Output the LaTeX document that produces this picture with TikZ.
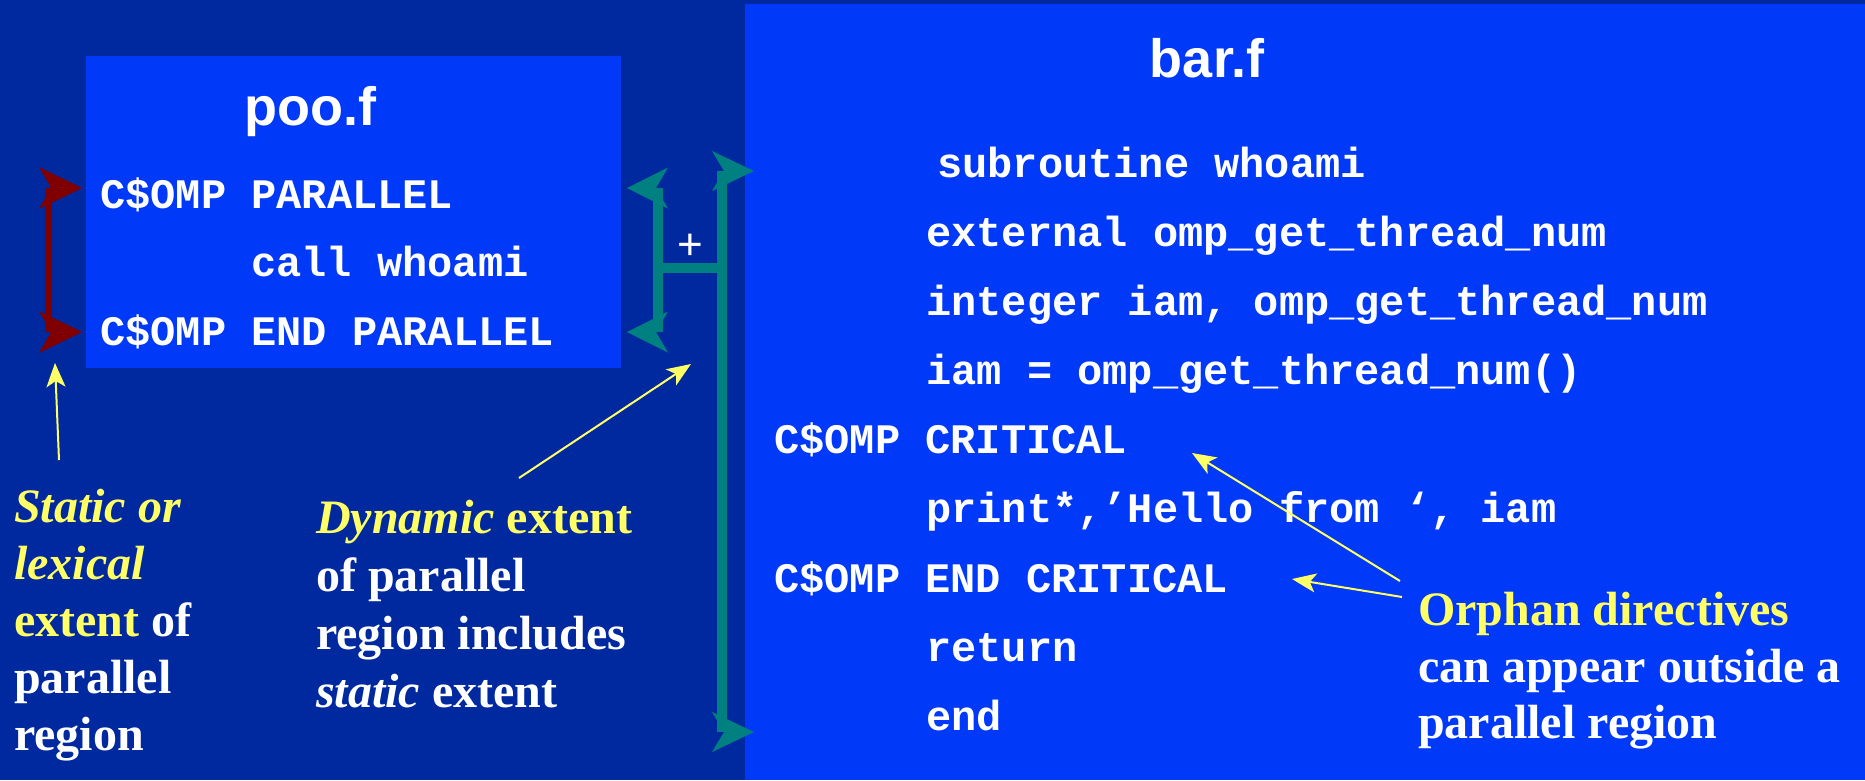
\documentclass[tikz,border=0pt]{standalone}
\usepackage{fontspec}
\setmainfont{Liberation Serif}
\newfontfamily\titlefont{Liberation Sans}
\newfontfamily\codefont{Liberation Mono}
\usetikzlibrary{arrows.meta}
\definecolor{bgdark}{RGB}{0,41,160}
\definecolor{panelblue}{RGB}{0,57,248}
\definecolor{hiyellow}{RGB}{255,255,102}
\definecolor{bracketred}{RGB}{128,0,0}
\definecolor{bracketteal}{RGB}{0,128,128}
\begin{document}
\begin{tikzpicture}[x=1pt,y=-1pt,
  panel/.style={fill=panelblue, draw=none, inner sep=0pt, outer sep=0pt, anchor=north west},
  filetitle/.style={font=\titlefont\bfseries\fontsize{54}{60}\selectfont, text=white, anchor=base, inner sep=0pt},
  codeline/.style={font=\codefont\bfseries\fontsize{42}{48}\selectfont, text=white, anchor=base west, inner sep=0pt},
  noteline/.style={font=\bfseries\fontsize{48}{56}\selectfont, text=white, anchor=base west, inner sep=0pt},
  pointer/.style={draw=hiyellow, line width=2pt, -{Stealth[length=24pt,width=19pt,inset=6pt]}},
  redbar/.style={draw=bracketred, line width=7pt},
  tealbar/.style={draw=bracketteal, line width=10pt}
]
\useasboundingbox (0,0) rectangle (1865,780);
\fill[bgdark] (0,0) rectangle (1865,780);

% panels
\node[panel, minimum width=535pt, minimum height=312pt] (poo) at (86,56) {};
\node[panel, minimum width=1120pt, minimum height=776pt] (bar) at (745,4) {};

% titles
\node[filetitle] (pootitle) at (310,125) {poo.f};
\node[filetitle] (bartitle) at (1207,77) {bar.f};

% poo.f code
\node[codeline] (p1) at (100,208) {C\$OMP PARALLEL};
\node[codeline] (p2) at (251,276) {call whoami};
\node[codeline] (p3) at (100,345) {C\$OMP END PARALLEL};

% bar.f code
\node[codeline] (b1) at (937,177) {subroutine whoami};
\node[codeline] (b2) at (926,246) {external omp\_get\_thread\_num};
\node[codeline] (b3) at (926,315) {integer iam, omp\_get\_thread\_num};
\node[codeline] (b4) at (926,384) {iam = omp\_get\_thread\_num()};
\node[codeline] (b5) at (774,453) {C\$OMP CRITICAL};
\node[codeline] (b6) at (926,522) {print*,’Hello from ‘, iam};
\node[codeline] (b7) at (774,592) {C\$OMP END CRITICAL};
\node[codeline] (b8) at (926,661) {return};
\node[codeline] (b9) at (926,730) {end};

% static extent bracket (dark red)
\draw[redbar] (48.5,188) -- (48.5,332);
\fill[bracketred] (82,188) -- ++(-43,-21) -- ++(12,21) -- ++(-12,21) -- cycle;
\fill[bracketred] (82,332) -- ++(-43,-21) -- ++(12,21) -- ++(-12,21) -- cycle;

% dynamic extent brackets (teal)
\draw[tealbar] (658,188) -- (658,332);
\draw[tealbar, line width=9.5pt] (658,268) -- (722,268);
\draw[tealbar] (722,171) -- (722,732);
\fill[bracketteal] (627,188) -- ++(41,-20.5) -- ++(-12,20.5) -- ++(12,20.5) -- cycle;
\fill[bracketteal] (627,332) -- ++(41,-20.5) -- ++(-12,20.5) -- ++(12,20.5) -- cycle;
\fill[bracketteal] (754,171) -- ++(-42,-20) -- ++(12,20) -- ++(-12,20) -- cycle;
\fill[bracketteal] (754,732) -- ++(-42,-20) -- ++(12,20) -- ++(-12,20) -- cycle;
\node[font=\titlefont\fontsize{44}{50}\selectfont, text=white, inner sep=0pt] (plus) at (690,247) {+};

% static note
\node[noteline] (s1) at (14,522) {\color{hiyellow}\itshape Static or};
\node[noteline] (s2) at (14,579) {\color{hiyellow}\itshape lexical};
\node[noteline] (s3) at (14,636) {{\color{hiyellow}extent} of};
\node[noteline] (s4) at (14,693) {parallel};
\node[noteline] (s5) at (14,750) {region};

% dynamic note
\node[noteline] (d1) at (316,533) {\color{hiyellow}{\itshape Dynamic} extent};
\node[noteline] (d2) at (316,591) {of parallel};
\node[noteline] (d3) at (316,649) {region includes};
\node[noteline] (d4) at (316,707) {{\itshape static} extent};

% orphan note
\node[noteline] (o1) at (1418,625) {\color{hiyellow}Orphan directives};
\node[noteline] (o2) at (1418,682) {can appear outside a};
\node[noteline] (o3) at (1418,738) {parallel region};

% pointers
\coordinate (sfrom) at (59,460);
\coordinate (sto) at (55,363);
\coordinate (dfrom) at (519,478);
\coordinate (dto) at (691,364);
\coordinate (ofrom1) at (1400,581);
\coordinate (oto1) at (1192,453);
\coordinate (ofrom2) at (1402,597);
\coordinate (oto2) at (1292,579);
\draw[pointer] (sfrom) -- (sto);
\draw[pointer] (dfrom) -- (dto);
\draw[pointer] (ofrom1) -- (oto1);
\draw[pointer] (ofrom2) -- (oto2);
\end{tikzpicture}
\end{document}
